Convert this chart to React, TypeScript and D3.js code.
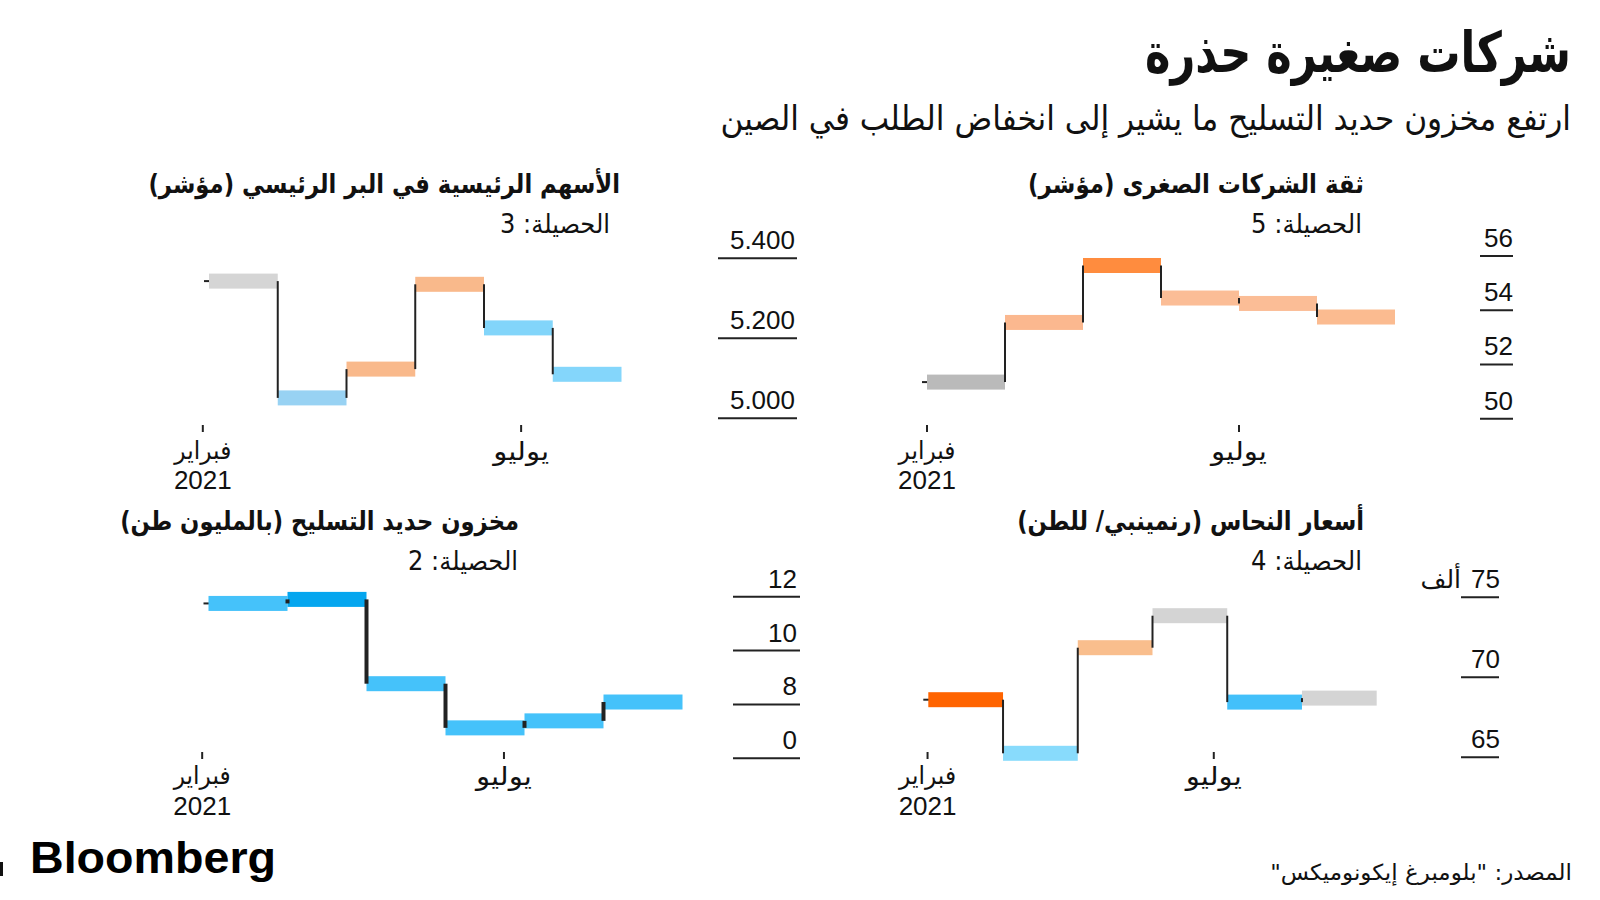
import React, { useLayoutEffect, useRef, useState } from 'react';
import * as d3 from 'd3';

// ---------- texts ----------
const TITLE = 'شركات صغيرة حذرة';
const SUBTITLE = 'ارتفع مخزون حديد التسليح ما يشير إلى انخفاض الطلب في الصين';
const SOURCE = 'المصدر: "بلومبرغ إيكونوميكس"';
const BRAND = 'Bloomberg';
const monthLabels = ['فبراير', 'يوليو'];
const yearLabel = '2021';

// ---------- panel 1: small business confidence ----------
const confidenceTitle = 'ثقة الشركات الصغرى (مؤشر)';
const confidenceTally = 'الحصيلة: 5';
const confidenceValues = [51.35, 53.55, 55.65, 54.45, 54.25, 53.75];
const confidenceColors = ['#bababa', '#fbb88f', '#ff8c3e', '#fbbd96', '#fbbd96', '#fbbb90'];
const confidenceTicks = [56, 54, 52, 50];
const confidenceTickLabels = ['56', '54', '52', '50'];
const confidenceMonthAt = [0, 4];

// ---------- panel 2: mainland stocks ----------
const stocksTitle = 'الأسهم الرئيسية في البر الرئيسي (مؤشر)';
const stocksTally = 'الحصيلة: 3';
const stocksValues = [5343, 5051, 5123, 5335, 5226, 5110];
const stocksColors = ['#d5d5d5', '#98d2f3', '#f9b98b', '#f9b98b', '#82d5fa', '#84d6fb'];
const stocksTicks = [5400, 5200, 5000];
const stocksTickLabels = ['5.400', '5.200', '5.000'];
const stocksMonthAt = [-0.09, 4.54];

// ---------- panel 3: rebar inventory ----------
const rebarTitle = 'مخزون حديد التسليح (بالمليون طن)';
const rebarTally = 'الحصيلة: 2';
const rebarValues = [11.75, 11.9, 8.77, 7.13, 7.39, 8.09];
const rebarColors = ['#45c2fa', '#05a6ef', '#45c2fa', '#45c2fa', '#45c2fa', '#45c2fa'];
const rebarTicks = [12, 10, 8, 6];
const rebarTickLabels = ['12', '10', '8', '0'];
const rebarMonthAt = [-0.08, 3.74];

// ---------- panel 4: copper prices ----------
const copperTitle = 'أسعار النحاس (رنمينبي/ للطن)';
const copperTally = 'الحصيلة: 4';
const copperValues = [68.6, 65.25, 71.85, 73.85, 68.45, 68.7];
const copperColors = ['#ff6400', '#88dbfc', '#f9be8d', '#d4d4d4', '#43c0fa', '#d4d4d4'];
const copperTicks = [75, 70, 65];
const copperTickLabels = ['75', '70', '65'];
const copperUnit = 'ألف';
const copperMonthAt = [-0.01, 3.82];

const AR = '"DejaVu Sans", "Noto Sans", sans-serif';
const NUM = '"Liberation Sans", Arial, sans-serif';

type PanelProps = {
  title: string; tally: string; values: number[]; colors: string[];
  ticks: number[]; tickLabels: string[]; monthAt: number[];
  layout: {
    x0: number; x1: number; yTop: number; yBottom: number; domain: [number, number];
    axisL: number; axisR: number; labelR: number;
    titleR: number; titleY: number; titleW: number; tallyR: number; tallyY: number; tallyW: number;
    tickY: number; monthY: number; yearY: number; connW: number; unitR?: number;
  };
  unit?: string;
};

// Text fitted to a target width by a horizontal scale (measured after layout).
function FitText({ x, y, size, weight = 'normal', width, children, fill = '#111', family = AR, rtl = true, anchor = 'start' }: any) {
  const ref = useRef<SVGTextElement>(null);
  const [s, setS] = useState(1);
  useLayoutEffect(() => {
    if (ref.current) {
      const n = ref.current.getComputedTextLength();
      if (n > 0) setS(width / n);
    }
  }, [width, children, size]);
  return (
    <text ref={ref} transform={`translate(${x},${y}) scale(${s},1)`} x={0} y={0}
      direction={rtl ? 'rtl' : 'ltr'} textAnchor={anchor} dominantBaseline="central"
      fontFamily={family} fontSize={size} fontWeight={weight} fill={fill}>{children}</text>
  );
}

const monthWidths = [57, 56];

function Panel({ title, tally, values, colors, ticks, tickLabels, monthAt, layout, unit }: PanelProps) {
  const L = layout;
  const x = d3.scaleLinear().domain([0, values.length]).range([L.x0, L.x1]);
  const y = d3.scaleLinear().domain(L.domain).range([L.yBottom, L.yTop]);
  const bh = 15;
  const connectors = values.slice(1).map((v, i) => ({ xi: i + 1, a: values[i], b: v }));
  return (
    <g>
      <FitText x={L.titleR} y={L.titleY} size={26} weight="bold" width={L.titleW}>{title}</FitText>
      <FitText x={L.tallyR} y={L.tallyY} size={26} width={L.tallyW}>{tally}</FitText>
      {/* start stub */}
      <line x1={x(0) - 5} x2={x(0) + 2} y1={y(values[0])} y2={y(values[0])} stroke="#222" strokeWidth={2} />
      {values.map((v, i) => (
        <rect key={i} x={x(i)} y={y(v) - bh / 2} width={x(i + 1) - x(i)} height={bh} fill={colors[i]} />
      ))}
      {connectors.map((c, i) => (
        <line key={i} x1={x(c.xi)} x2={x(c.xi)} y1={y(c.a)} y2={y(c.b)} stroke="#222" strokeWidth={L.connW} />
      ))}
      {/* y axis */}
      {ticks.map((t, i) => (
        <g key={t}>
          <line x1={L.axisL} x2={L.axisR} y1={y(t)} y2={y(t)} stroke="#222" strokeWidth={2} />
          <text x={L.labelR} y={y(t) - 9} textAnchor="end" fontFamily={NUM} fontSize={26} fill="#111">{tickLabels[i]}</text>
          {unit && i === 0 && L.unitR ? (
            <text x={L.unitR} y={y(t) - 9} textAnchor="end" fontFamily={AR} fontSize={25} fill="#111">{unit}</text>
          ) : null}
        </g>
      ))}
      {/* x axis */}
      {monthAt.map((m, i) => (
        <g key={i}>
          <line x1={x(m)} x2={x(m)} y1={L.tickY} y2={L.tickY + 7} stroke="#222" strokeWidth={2} />
          <FitText x={x(m)} y={L.monthY} size={25} width={monthWidths[i]} anchor="middle">{monthLabels[i]}</FitText>
          {i === 0 ? (
            <text x={x(m)} y={L.yearY} textAnchor="middle" dominantBaseline="central" fontFamily={NUM} fontSize={26} fill="#111">{yearLabel}</text>
          ) : null}
        </g>
      ))}
    </g>
  );
}

export default function App() {
  return (
    <svg width={1600} height={900} style={{ position: 'absolute', left: 0, top: 0, background: '#fff' }}>
      <rect width={1600} height={900} fill="#fff" />
      <FitText x={1571} y={53} size={56} weight="bold" width={426}>{TITLE}</FitText>
      <FitText x={1571} y={119} size={34} width={851}>{SUBTITLE}</FitText>

      <Panel title={confidenceTitle} tally={confidenceTally} values={confidenceValues} colors={confidenceColors}
        ticks={confidenceTicks} tickLabels={confidenceTickLabels} monthAt={confidenceMonthAt}
        layout={{ x0: 927, x1: 1395, yTop: 256, yBottom: 418.7, domain: [50, 56], axisL: 1480, axisR: 1513, labelR: 1513,
          titleR: 1364, titleY: 184, titleW: 336, tallyR: 1362, tallyY: 224, tallyW: 111,
          tickY: 425, monthY: 451, yearY: 480, connW: 2 }} />

      <Panel title={stocksTitle} tally={stocksTally} values={stocksValues} colors={stocksColors}
        ticks={stocksTicks} tickLabels={stocksTickLabels} monthAt={stocksMonthAt}
        layout={{ x0: 209, x1: 621.5, yTop: 258.3, yBottom: 418.3, domain: [5000, 5400], axisL: 718, axisR: 797, labelR: 795,
          titleR: 620, titleY: 184, titleW: 472, tallyR: 610, tallyY: 224, tallyW: 110,
          tickY: 425, monthY: 451, yearY: 480, connW: 2 }} />

      <Panel title={rebarTitle} tally={rebarTally} values={rebarValues} colors={rebarColors}
        ticks={rebarTicks} tickLabels={rebarTickLabels} monthAt={rebarMonthAt}
        layout={{ x0: 208.5, x1: 682.5, yTop: 596.7, yBottom: 758.3, domain: [6, 12], axisL: 733, axisR: 800, labelR: 797,
          titleR: 519, titleY: 521, titleW: 399, tallyR: 518, tallyY: 561, tallyW: 110,
          tickY: 752, monthY: 776, yearY: 806, connW: 4 }} />

      <Panel title={copperTitle} tally={copperTally} values={copperValues} colors={copperColors}
        ticks={copperTicks} tickLabels={copperTickLabels} monthAt={copperMonthAt} unit={copperUnit}
        layout={{ x0: 928.3, x1: 1376.7, yTop: 597.3, yBottom: 757.3, domain: [65, 75], axisL: 1461, axisR: 1499, labelR: 1500,
          titleR: 1364, titleY: 521, titleW: 347, tallyR: 1362, tallyY: 561, tallyW: 111,
          tickY: 752, monthY: 776, yearY: 806, connW: 2, unitR: 1461 }} />

      <rect x={0} y={862} width={3} height={14} fill="#111" />
      <text x={30} y={873} fontFamily={NUM} fontWeight="bold" fontSize={44} fill="#000"
        textLength={246} lengthAdjust="spacingAndGlyphs">{BRAND}</text>
      <FitText x={1572} y={872} size={22} width={302}>{SOURCE}</FitText>
    </svg>
  );
}
